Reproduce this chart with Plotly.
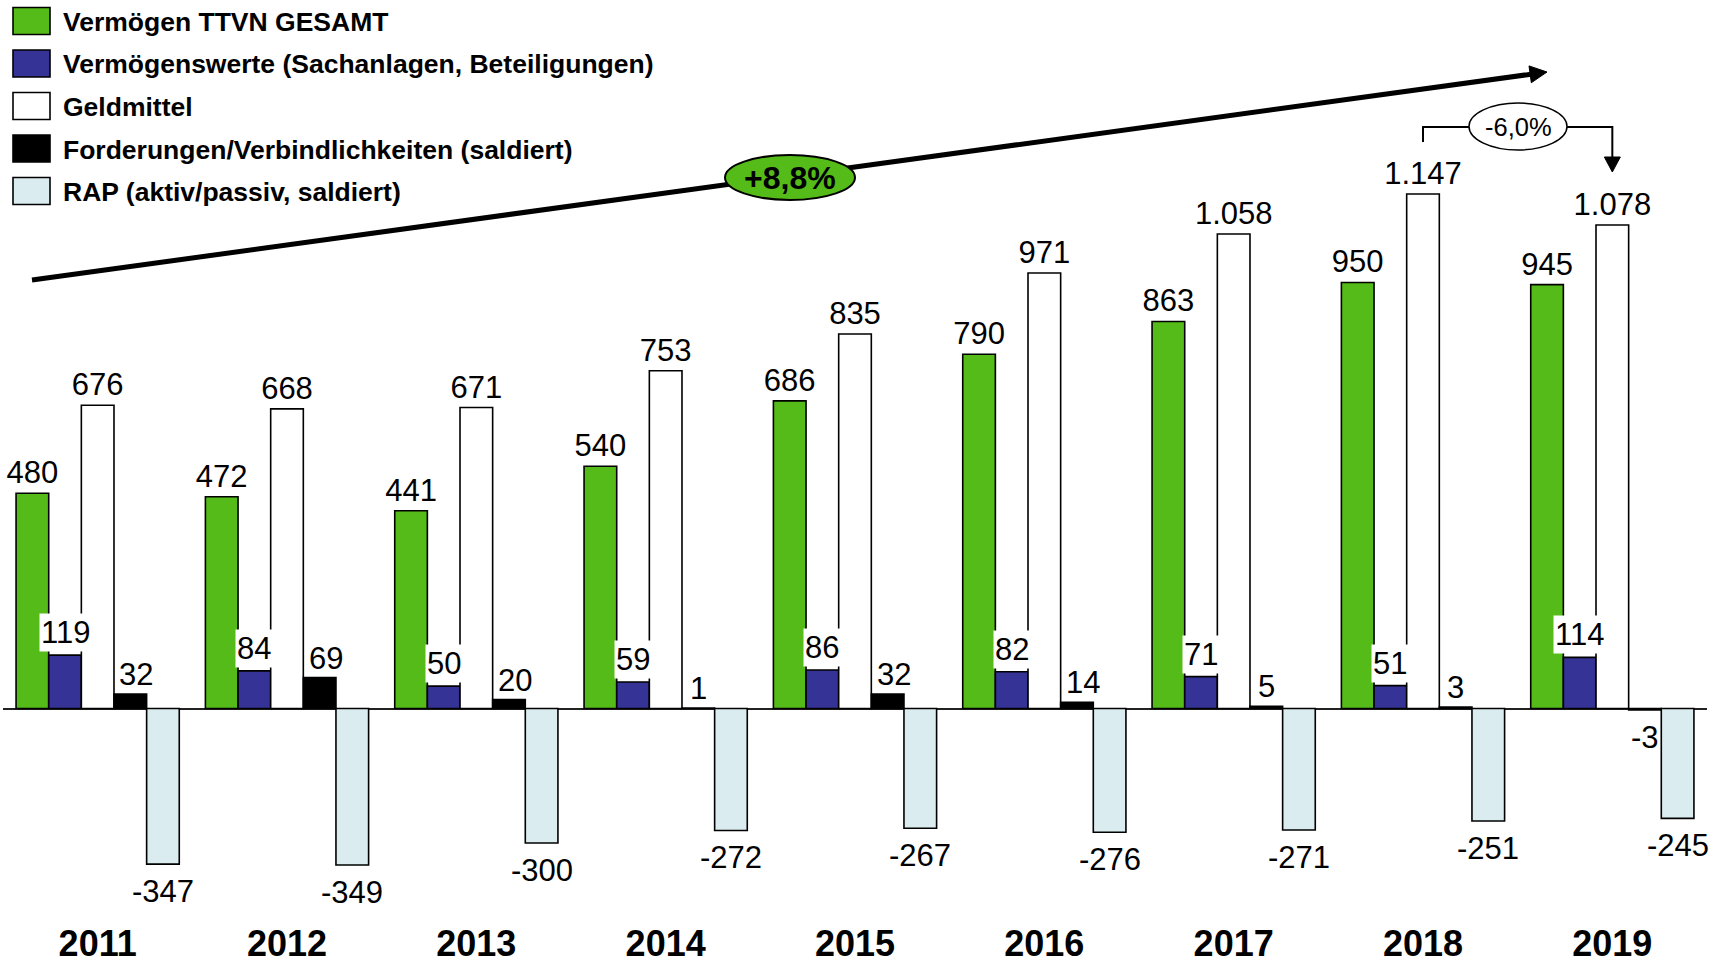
import plotly.graph_objects as go

# ---------------- data ----------------
years = ["2011", "2012", "2013", "2014", "2015", "2016", "2017", "2018", "2019"]
vermoegen_gesamt = [480, 472, 441, 540, 686, 790, 863, 950, 945]
vermoegenswerte = [119, 84, 50, 59, 86, 82, 71, 51, 114]
geldmittel = [676, 668, 671, 753, 835, 971, 1058, 1147, 1078]
forderungen = [32, 69, 20, 1, 32, 14, 5, 3, -3]
rap = [-347, -349, -300, -272, -267, -276, -271, -251, -245]

series_names = [
    "Vermögen TTVN GESAMT",
    "Vermögenswerte (Sachanlagen, Beteiligungen)",
    "Geldmittel",
    "Forderungen/Verbindlichkeiten (saldiert)",
    "RAP (aktiv/passiv, saldiert)",
]
series_colors = ["#55BB18", "#363396", "#FFFFFF", "#000000", "#DAECEF"]
trend_label = "+8,8%"
change_label = "-6,0%"

# ---------------- helpers ----------------
W, H = 1725, 963
FONT = "Liberation Sans, Arial, sans-serif"
LBL = 31


def px(x):
    return x / W


def py(y):
    return 1 - y / H


def fmt(v):
    s = f"{abs(v):,}".replace(",", ".")
    return ("-" if v < 0 else "") + s


# plot geometry
x0_plot, x1_plot = 3, 1707
y_top, y_base, y_bottom = 0, 708.5, 919
scale = 0.4485
yr_top = (y_base - y_top) / scale
yr_bot = -(y_bottom - y_base) / scale
cat_w = (x1_plot - x0_plot) / len(years)
bargap = 0.138
bar_w = cat_w * (1 - bargap) / 5

fig = go.Figure()
all_series = [vermoegen_gesamt, vermoegenswerte, geldmittel, forderungen, rap]
trace_text = [True, False, True, False, False]
for i, (name, vals, col) in enumerate(zip(series_names, all_series, series_colors)):
    fig.add_trace(go.Bar(
        x=years, y=vals, name=name,
        marker=dict(color=col, line=dict(color="#000000", width=1.6)),
        text=[fmt(v) for v in vals] if trace_text[i] else None,
        textposition="outside",
        textfont=dict(family=FONT, size=LBL, color="#000000"),
        constraintext="none",
        cliponaxis=False,
        showlegend=False,
        hoverinfo="skip",
    ))

annotations = []
shapes = []


def bar_label(i, v, offset, bg=None, up=0, extra_x=0):
    d = dict(x=i, y=v, xref="x", yref="y", text=fmt(v), showarrow=False,
             xanchor="center", xshift=offset * bar_w + extra_x,
             borderpad=1,
             font=dict(family=FONT, size=LBL, color="#000000"))
    if v >= 0:
        d.update(yanchor="bottom", yshift=up)
    else:
        d.update(yanchor="top", yshift=-8)
    if bg:
        d["bgcolor"] = bg
    return d


for i, v in enumerate(vermoegenswerte):
    annotations.append(bar_label(i, v, -1, "#FFFFFF", up=3))
for i, v in enumerate(forderungen):
    shift = 6 * (len(fmt(v)) - 1) if v >= 0 else 0
    annotations.append(bar_label(i, v, 1, extra_x=shift))
for i, v in enumerate(rap):
    annotations.append(bar_label(i, v, 2))

# legend (drawn manually)
leg_tops = [7.5, 50, 92.5, 135, 177.5]
for top, name, col in zip(leg_tops, series_names, series_colors):
    shapes.append(dict(type="rect", xref="paper", yref="paper",
                       x0=px(13), x1=px(50), y0=py(top), y1=py(top + 27),
                       fillcolor=col, line=dict(color="#000000", width=1.6)))
    annotations.append(dict(x=px(61), y=py(top + 14.5), xref="paper", yref="paper",
                            text="<b>" + name + "</b>", showarrow=False,
                            xanchor="left", yanchor="middle",
                            font=dict(family=FONT, size=26.5, color="#000000")))

# trend arrow
tx0, ty0 = 32, 280
tx1, ty1 = 1547, 72
dx, dy = tx1 - tx0, ty1 - ty0
L = (dx ** 2 + dy ** 2) ** 0.5
ux, uy = dx / L, dy / L
pxv, pyv = -uy, ux
hl, hw = 17, 8.5
bx, by = tx1 - hl * ux, ty1 - hl * uy
shapes.append(dict(type="line", xref="paper", yref="paper",
                   x0=px(tx0), y0=py(ty0), x1=px(bx + ux), y1=py(by + uy),
                   line=dict(color="#000000", width=5)))
shapes.append(dict(type="path", xref="paper", yref="paper",
                   path=f"M {px(tx1)} {py(ty1)} L {px(bx + hw * pxv)} {py(by + hw * pyv)} "
                        f"L {px(bx - hw * pxv)} {py(by - hw * pyv)} Z",
                   fillcolor="#000000", line=dict(color="#000000", width=1)))
# trend ellipse
shapes.append(dict(type="circle", xref="paper", yref="paper",
                   x0=px(725), x1=px(855), y0=py(155), y1=py(200),
                   fillcolor="#55BB18", line=dict(color="#000000", width=2)))
annotations.append(dict(x=px(790), y=py(178), xref="paper", yref="paper",
                        text="<b>" + trend_label + "</b>", showarrow=False,
                        xanchor="center", yanchor="middle",
                        font=dict(family=FONT, size=32, color="#000000")))

# -6,0% bracket between 2018 and 2019 Geldmittel
yb = 127
shapes.append(dict(type="path", xref="x", yref="paper",
                   path=f"M 7 {py(142)} L 7 {py(yb)} L 7.25 {py(yb)}",
                   line=dict(color="#000000", width=2)))
shapes.append(dict(type="path", xref="x", yref="paper",
                   path=f"M 7.75 {py(yb)} L 8 {py(yb)} L 8 {py(158)}",
                   line=dict(color="#000000", width=2)))
shapes.append(dict(type="path", xref="x", yref="paper",
                   path=f"M 8 {py(172)} L {8 - 8 / cat_w} {py(157)} L {8 + 8 / cat_w} {py(157)} Z",
                   fillcolor="#000000", line=dict(color="#000000", width=1)))
shapes.append(dict(type="circle", xref="paper", yref="paper",
                   x0=px(1469), x1=px(1567), y0=py(103), y1=py(150),
                   fillcolor="#FFFFFF", line=dict(color="#000000", width=1.5)))
annotations.append(dict(x=px(1518), y=py(127), xref="paper", yref="paper",
                        text=change_label, showarrow=False,
                        xanchor="center", yanchor="middle",
                        font=dict(family=FONT, size=25.5, color="#000000")))

fig.update_layout(
    width=W, height=H,
    margin=dict(l=0, r=0, t=0, b=0, pad=0, autoexpand=False),
    paper_bgcolor="#FFFFFF", plot_bgcolor="#FFFFFF",
    barmode="group", bargap=bargap, bargroupgap=0,
    showlegend=False,
    font=dict(family=FONT, color="#000000"),
    xaxis=dict(domain=[px(x0_plot), px(x1_plot)], type="category", automargin=False,
               showgrid=False, zeroline=False, showline=False, ticks="",
               tickfont=dict(family=FONT, size=36, color="#000000"),
               tickvals=years, ticktext=["<b>" + y + "</b>" for y in years],
               range=[-0.5, len(years) - 0.5]),
    yaxis=dict(domain=[py(y_bottom), py(y_top)], range=[yr_bot, yr_top], automargin=False,
               showgrid=False, zeroline=True, zerolinecolor="#222222", zerolinewidth=1.5,
               showticklabels=False, ticks="", showline=False),
    shapes=shapes,
    annotations=annotations,
)

fig.write_html("out.html",
               config={"displayModeBar": False},
               post_script="document.body.style.margin='0';document.body.style.overflow='hidden';")
